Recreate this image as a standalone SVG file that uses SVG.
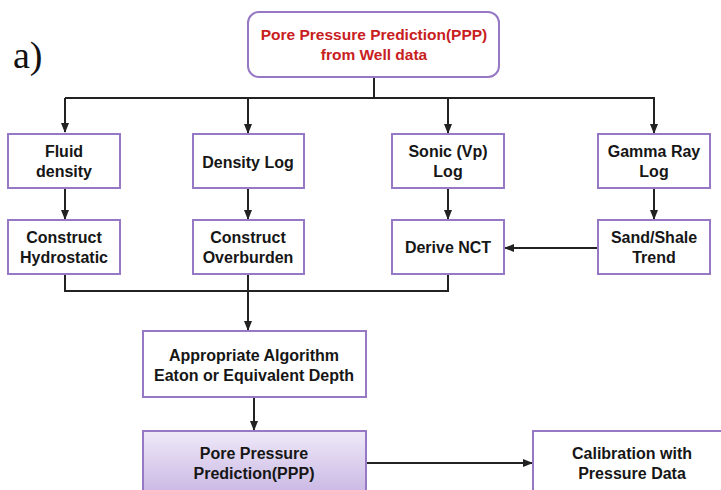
<svg xmlns="http://www.w3.org/2000/svg" width="721" height="490" viewBox="0 0 721 490">
<defs>
<marker id="ah" viewBox="0 0 10 10" refX="9" refY="5" markerWidth="5" markerHeight="5" orient="auto" markerUnits="strokeWidth">
<path d="M0,1 L10,5 L0,9 z" fill="#222"/>
</marker>
<linearGradient id="pg" x1="0" y1="0" x2="0" y2="1">
<stop offset="0" stop-color="#efe9f8"/>
<stop offset="1" stop-color="#c5b2e2"/>
</linearGradient>
<style>
.box{fill:#fff;stroke:#9678c4;stroke-width:2}
.t{font-family:"Liberation Sans",Arial,sans-serif;font-weight:bold;font-size:16px;fill:#161616;text-anchor:middle}
.red{fill:#c8201e;font-size:15.5px}
.c{fill:none;stroke:#222;stroke-width:2}
</style>
</defs>
<rect width="721" height="490" fill="#fff"/>
<text x="13" y="68" font-family="Liberation Serif,Times New Roman,serif" font-size="38" fill="#111">a)</text>
<g id="connectors">
<path class="c" d="M374,77 V98 M65,98 H655"/>
<path class="c" d="M65,98 V132" marker-end="url(#ah)"/>
<path class="c" d="M248,98 V133" marker-end="url(#ah)"/>
<path class="c" d="M448,98 V133" marker-end="url(#ah)"/>
<path class="c" d="M654,98 V133" marker-end="url(#ah)"/>
<path class="c" d="M65,188 V219" marker-end="url(#ah)"/>
<path class="c" d="M248,188 V219" marker-end="url(#ah)"/>
<path class="c" d="M448,188 V219" marker-end="url(#ah)"/>
<path class="c" d="M654,188 V219" marker-end="url(#ah)"/>
<path class="c" d="M598,248 H505" marker-end="url(#ah)"/>
<path class="c" d="M65,274 V291 H448 V274 M248,274 V291"/>
<path class="c" d="M248,291 V330" marker-end="url(#ah)"/>
<path class="c" d="M254,397 V430" marker-end="url(#ah)"/>
<path class="c" d="M366,463 H532" marker-end="url(#ah)"/>
</g>
<g id="top">
<rect class="box" x="248" y="12" width="251" height="65" rx="11" stroke="#a78bd0"/>
<text class="t red" x="374" y="40">Pore Pressure Prediction(PPP)</text>
<text class="t red" x="374" y="60">from Well data</text>
</g>
<g id="fluid">
<rect class="box" x="8" y="134" width="112" height="54"/>
<text class="t" x="64" y="157">Fluid</text>
<text class="t" x="64" y="177">density</text>
</g>
<g id="densitylog">
<rect class="box" x="193" y="134" width="111" height="54"/>
<text class="t" x="248" y="168">Density Log</text>
</g>
<g id="sonic">
<rect class="box" x="392" y="134" width="112" height="54"/>
<text class="t" x="448" y="157">Sonic (Vp)</text>
<text class="t" x="448" y="177">Log</text>
</g>
<g id="gamma">
<rect class="box" x="598" y="134" width="112" height="54"/>
<text class="t" x="654" y="157">Gamma Ray</text>
<text class="t" x="654" y="177">Log</text>
</g>
<g id="hydro">
<rect class="box" x="8" y="220" width="112" height="54"/>
<text class="t" x="64" y="243">Construct</text>
<text class="t" x="64" y="263">Hydrostatic</text>
</g>
<g id="overburden">
<rect class="box" x="193" y="220" width="111" height="54"/>
<text class="t" x="248" y="243">Construct</text>
<text class="t" x="248" y="263">Overburden</text>
</g>
<g id="nct">
<rect class="box" x="392" y="220" width="112" height="54"/>
<text class="t" x="448" y="253">Derive NCT</text>
</g>
<g id="sandshale">
<rect class="box" x="598" y="220" width="112" height="54"/>
<text class="t" x="654" y="243">Sand/Shale</text>
<text class="t" x="654" y="263">Trend</text>
</g>
<g id="algorithm">
<rect class="box" x="143" y="331" width="223" height="66"/>
<text class="t" x="254" y="361">Appropriate Algorithm</text>
<text class="t" x="254" y="381">Eaton or Equivalent Depth</text>
</g>
<g id="ppp">
<rect class="box" x="143" y="431" width="223" height="70" style="fill:url(#pg)"/>
<text class="t" x="254" y="459">Pore Pressure</text>
<text class="t" x="254" y="479">Prediction(PPP)</text>
</g>
<g id="calibration">
<rect class="box" x="533" y="431" width="200" height="70"/>
<text class="t" x="632" y="459">Calibration with</text>
<text class="t" x="632" y="479">Pressure Data</text>
</g>
</svg>
